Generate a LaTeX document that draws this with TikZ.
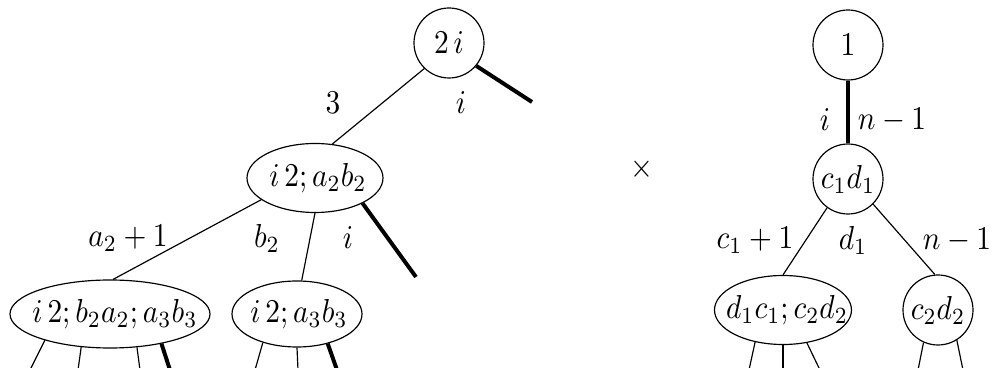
\documentclass[tikz,border=0pt]{standalone}
\usepackage{graphicx}
\usetikzlibrary{shapes.geometric}
\newcommand\mtxt[1]{\scalebox{1}[1.13]{$#1$}}
\begin{document}
\begin{tikzpicture}[x=0.34pt,y=-0.34pt,
  circ/.style={circle,draw,inner sep=0pt,minimum size=70*0.34pt},
  ell/.style 2 args={ellipse,draw,inner sep=0pt,minimum width=#1*0.34pt,minimum height=#2*0.34pt},
  thk/.style={line width=1.35pt},
  lbl/.style={inner sep=0pt}]
\useasboundingbox (0,0) rectangle (992,368);
% left tree
\node[circ] (A) at (449,43) {\mtxt{2\,i}};
\node[ell={136}{69}] (B) at (315,178) {};
\node[lbl] (Bt) at (318,178) {\mtxt{i\,2; a_2b_2}};
\node[ell={200}{68}] (C) at (110,314) {};
\node[lbl] (Ct) at (115,314) {\mtxt{i\,2; b_2a_2; a_3b_3}};
\node[ell={130}{66}] (D) at (297,314) {};
\node[lbl] (Dt) at (299,314) {\mtxt{i\,2; a_3b_3}};
\coordinate (A1) at (532,102);
\coordinate (B1) at (416,277);
\coordinate (C1) at (30,370);
\coordinate (C2) at (78,370);
\coordinate (C3) at (140,370);
\coordinate (C4) at (170,370);
\coordinate (D1) at (255,370);
\coordinate (D2) at (298,370);
\coordinate (D3) at (337,370);
\draw (A.226) -- (B.63);
\draw[thk] (A.320) -- (A1);
\draw (B.202) -- (C.85);
\draw (B.270) -- (D.82);
\draw[thk] (B.332) -- (B1);
\draw (C.202) -- (C1);
\draw (C.229) -- (C2);
\draw (C.309) -- (C3);
\draw[thk] (C.330) -- (C4);
\draw (D.220) -- (D1);
\draw (D.270) -- (D2);
\draw[thk] (D.316) -- (D3);
\node[lbl] (l3) at (333,103) {\mtxt{3}};
\node[lbl] (li1) at (461,103) {\mtxt{i}};
\node[lbl] (la) at (128,238) {\mtxt{a_2+1}};
\node[lbl] (lb) at (267,238) {\mtxt{b_2}};
\node[lbl] (li2) at (348,238) {\mtxt{i}};
% times
\node[lbl] (x) at (642,169) {\mtxt{\times}};
% right tree
\node[circ] (E) at (848,45) {\mtxt{1}};
\node[circ] (F) at (848,179) {\mtxt{c_1d_1}};
\node[ell={137}{69}] (G) at (783,310) {};
\node[lbl] (Gt) at (787,310) {\mtxt{d_1c_1; c_2d_2}};
\node[circ] (H) at (938,310) {\mtxt{c_2d_2}};
\coordinate (G1) at (749,370);
\coordinate (G2) at (783,370);
\coordinate (G3) at (820,370);
\coordinate (H1) at (918,370);
\coordinate (H2) at (963,370);
\draw[thk] (E.south) -- (F.north);
\draw (F.234) -- (G.90);
\draw (F.315) -- (H.95);
\draw (G.229) -- (G1);
\draw (G.270) -- (G2);
\draw (G.306) -- (G3);
\draw (H.246) -- (H1);
\draw (H.302) -- (H2);
\node[lbl] (li3) at (825,120) {\mtxt{i}};
\node[lbl] (ln1) at (892,120) {\mtxt{n-1}};
\node[lbl] (lc) at (755,240) {\mtxt{c_1+1}};
\node[lbl] (ld) at (853,240) {\mtxt{d_1}};
\node[lbl] (ln2) at (957,240) {\mtxt{n-1}};
\end{tikzpicture}
\end{document}
